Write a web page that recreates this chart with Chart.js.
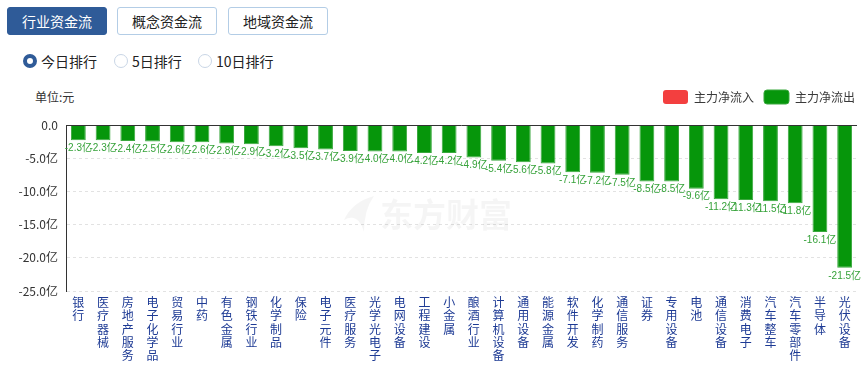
<!DOCTYPE html>
<html>
<head>
<meta charset="utf-8">
<script src="https://cdn.jsdelivr.net/npm/chart.js@4/dist/chart.umd.min.js"></script>
<style>
  body { margin: 0; background: #fff; font-family: "Noto Sans CJK SC", "Noto Sans", sans-serif; }
  .wrap { position: relative; width: 867px; height: 370px; overflow: hidden; }
  .btn { position: absolute; top: 7px; height: 26px; width: 98px; border: 1px solid #b3cde6; border-radius: 3px;
         font-size: 14px; line-height: 26px; text-align: center; color: #222; background: #fff; }
  .btn.on { background: #2f5b98; border-color: #2f5b98; color: #fff; }
  .radio { position: absolute; top: 51px; font-size: 14px; line-height: 20px; color: #222; }
  .radio i { position: absolute; left: -18px; top: 3px; width: 12px; height: 12px; border: 1px solid #c9d6e6; border-radius: 50%; box-sizing: content-box; }
  .radio.on i { width: 6px; height: 6px; border: 4px solid #2f5b98; }
  .unit { position: absolute; left: 35px; top: 88px; font-size: 12px; color: #333; }
  #box { position: absolute; left: 0; top: 80px; }
</style>
</head>
<body>
<div class="wrap">
  <div class="btn on" style="left:7px">行业资金流</div>
  <div class="btn" style="left:117px">概念资金流</div>
  <div class="btn" style="left:228px">地域资金流</div>
  <div class="radio on" style="left:41px"><i></i>今日排行</div>
  <div class="radio" style="left:132px"><i></i>5日排行</div>
  <div class="radio" style="left:216px"><i></i>10日排行</div>
  <div class="unit">单位:元</div>
  <div id="box"><canvas id="flow-chart" width="867" height="290"></canvas></div>
</div>
<script>
// industry names, left to right
const categories = ['银行', '医疗器械', '房地产服务', '电子化学品', '贸易行业', '中药', '有色金属', '钢铁行业',
  '化学制品', '保险', '电子元件', '医疗服务', '光学光电子', '电网设备', '工程建设', '小金属',
  '酿酒行业', '计算机设备', '通用设备', '能源金属', '软件开发', '化学制药', '通信服务', '证券',
  '专用设备', '电池', '通信设备', '消费电子', '汽车整车', '汽车零部件', '半导体', '光伏设备'];

// main net outflow, in 亿
const outflow = [-2.3, -2.3, -2.4, -2.5, -2.6, -2.6, -2.8, -2.9, -3.2, -3.5, -3.7, -3.9, -4.0, -4.0, -4.2, -4.2,
  -4.9, -5.4, -5.6, -5.8, -7.1, -7.2, -7.5, -8.5, -8.5, -9.6, -11.2, -11.3, -11.5, -11.8, -16.1, -21.5];

// main net inflow: nothing today
const inflow = categories.map(() => null);

const yTicks = [0, -5, -10, -15, -20, -25];

// value labels under each bar
const barLabels = {
  id: 'barLabels',
  afterDatasetsDraw(chart) {
    const ctx = chart.ctx;
    const meta = chart.getDatasetMeta(1);
    ctx.save();
    ctx.font = '10px "Liberation Sans", "Noto Sans CJK SC"';
    ctx.fillStyle = '#36a23a';
    ctx.textAlign = 'center';
    ctx.textBaseline = 'top';
    meta.data.forEach((bar, i) => {
      ctx.fillText(outflow[i].toFixed(1) + '亿', bar.x, bar.y + 3);
    });
    ctx.restore();
  }
};

// a bit more room under the legend, and push it to the right edge
const legendGap = {
  id: 'legendGap',
  beforeInit(chart) {
    const legend = chart.legend;
    const fit = legend.fit;
    legend.fit = function () { fit.call(this); this.height += 11; };
  },
  afterLayout(chart) {
    chart.legend.left += 8;
    chart.legend.right += 8;
  }
};

// solid line at zero + faint watermark
const extras = {
  id: 'extras',
  beforeDatasetsDraw(chart) {
    const ctx = chart.ctx;
    ctx.save();
    ctx.fillStyle = 'rgba(0,0,0,0.04)';
    ctx.font = 'bold 33px "Noto Sans CJK SC"';
    ctx.textBaseline = 'middle';
    ctx.fillText('东方财富', 380, 134);
    ctx.beginPath();
    ctx.moveTo(374, 116);
    ctx.quadraticCurveTo(352, 122, 344, 140);
    ctx.quadraticCurveTo(358, 132, 364, 152);
    ctx.quadraticCurveTo(364, 130, 374, 116);
    ctx.fill();
    ctx.restore();
  },
  afterDraw(chart) {
    const { ctx, chartArea, scales } = chart;
    const y = Math.round(scales.y.getPixelForValue(0)) + 0.5;
    ctx.save();
    ctx.strokeStyle = '#333';
    ctx.lineWidth = 1;
    ctx.beginPath();
    ctx.moveTo(chartArea.left, y);
    ctx.lineTo(chartArea.right, y);
    ctx.stroke();
    ctx.restore();
  }
};

new Chart(document.getElementById('flow-chart').getContext('2d'), {
  type: 'bar',
  data: {
    labels: categories.map(s => s.split('')),
    datasets: [
      { label: '主力净流入', data: inflow, backgroundColor: '#f33f3f' },
      { label: '主力净流出', data: outflow, backgroundColor: '#06960b', borderColor: '#3aa83e', borderWidth: 1 }
    ]
  },
  options: {
    responsive: false,
    animation: false,
    events: [],
    datasets: { bar: { grouped: false, categoryPercentage: 1, barPercentage: 0.6 } },
    layout: { padding: { left: 0, right: 10, top: 0, bottom: 3 } },
    plugins: {
      tooltip: { enabled: false },
      legend: {
        position: 'top',
        align: 'end',
        labels: {
          boxWidth: 25, boxHeight: 14, useBorderRadius: true, borderRadius: 3, padding: 10,
          color: '#3a3a3a', font: { size: 12, family: '"Noto Sans CJK SC"' }
        }
      }
    },
    scales: {
      x: {
        grid: { display: false, drawTicks: false },
        border: { display: false },
        ticks: {
          autoSkip: false, maxRotation: 0, minRotation: 0, padding: 5,
          color: '#1d3a94', font: { size: 12, family: '"Noto Sans CJK SC"', lineHeight: 1.1 }
        }
      },
      y: {
        min: -25, max: 0,
        afterFit(scale) { scale.width = 66; },
        afterBuildTicks(scale) { scale.ticks = yTicks.map(v => ({ value: v })); },
        grid: { color: '#e2e2e2', drawTicks: false },
        border: { display: true, color: '#333', dash: [3, 3] },
        ticks: {
          padding: 8, color: '#333', font: { size: 12, family: '"Noto Sans CJK SC"' },
          callback: v => v === 0 ? '0.0' : v.toFixed(1) + '亿'
        }
      }
    }
  },
  plugins: [legendGap, barLabels, extras]
});
</script>
</body>
</html>
